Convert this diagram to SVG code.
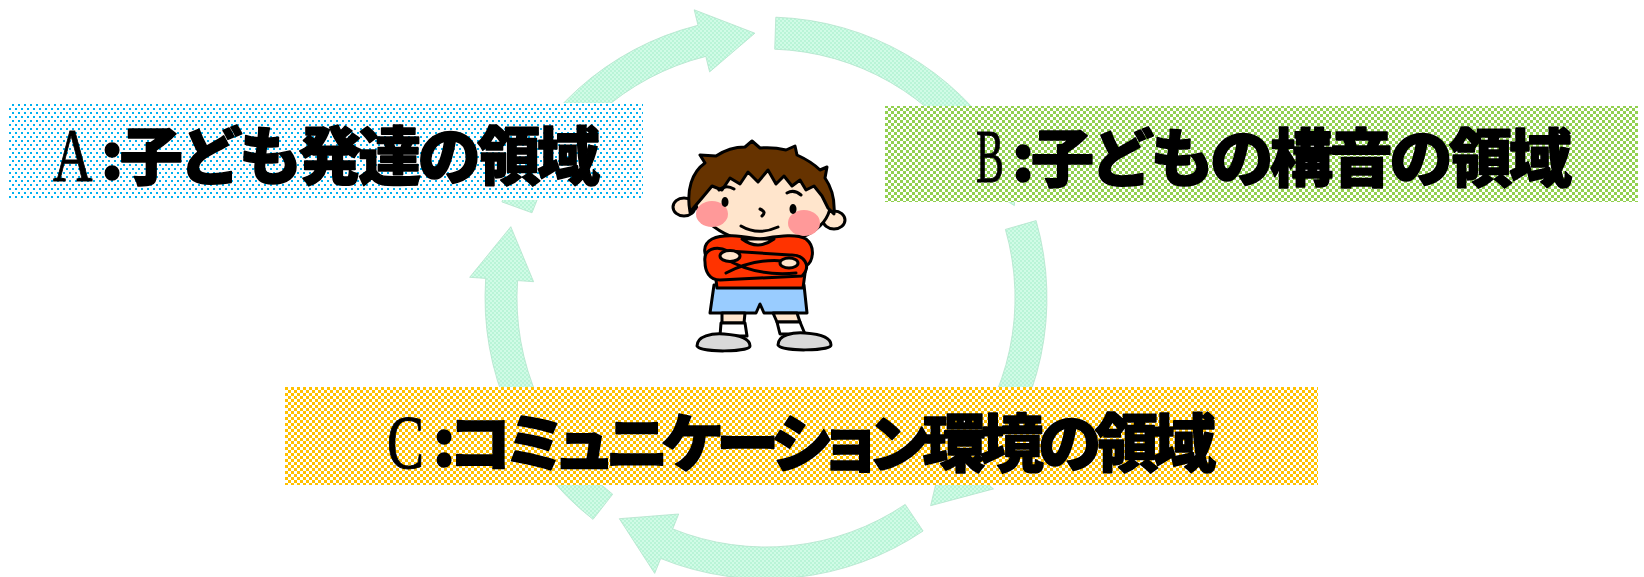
<svg xmlns="http://www.w3.org/2000/svg" width="1644" height="577" viewBox="0 0 1644 577">
  <defs>
    <!-- fill textures -->
    <pattern id="patDots" width="6" height="8" patternUnits="userSpaceOnUse">
      <rect width="6" height="8" fill="#fff"/>
      <rect x="0" y="0" width="2" height="2" fill="#00B0F0"/>
      <rect x="3" y="4" width="2" height="2" fill="#00B0F0"/>
    </pattern>
    <pattern id="patGreen" width="6" height="6" patternUnits="userSpaceOnUse">
      <rect width="6" height="6" fill="#fff"/>
      <rect x="0" y="0" width="3" height="3" fill="#92D050"/>
      <rect x="3" y="3" width="3" height="3" fill="#92D050"/>
    </pattern>
    <pattern id="patOrange" width="6" height="6" patternUnits="userSpaceOnUse">
      <rect width="6" height="6" fill="#fff"/>
      <rect x="0" y="0" width="3" height="3" fill="#FFC000"/>
      <rect x="3" y="3" width="3" height="3" fill="#FFC000"/>
    </pattern>
    <pattern id="patMint" width="4" height="4" patternUnits="userSpaceOnUse">
      <rect width="4" height="4" fill="#D0FBE6"/>
      <rect x="0" y="0" width="2" height="2" fill="#B9F4D7"/>
      <rect x="2" y="2" width="2" height="2" fill="#B9F4D7"/>
    </pattern>
  </defs>
  <style>
    .ring { fill: url(#patMint); stroke: #B3E3CB; stroke-width: 0.8; }
    .cjk { font-family: "Noto Sans CJK JP", "Noto Sans CJK SC", sans-serif; font-weight: 900; font-size: 63px; fill: #000; stroke: #000; stroke-width: 1.6; stroke-linejoin: round; }
    .kana { font-feature-settings: "palt"; }
    .lat { font-family: "Liberation Serif", serif; font-size: 76px; fill: #000; stroke: #000; stroke-width: 1; }
    .ln { stroke: #000; stroke-width: 3; stroke-linejoin: round; stroke-linecap: round; }
    .skin { fill: #FFE5CC; }
  </style>

  <rect width="1644" height="577" fill="#fff"/>

  <!-- cycle arrows: five ring segments around (766,298) -->
  <g id="connectors">
    <path class="ring" d="M501.9,201.9 A281,281 0 0 1 698.0,25.3 L694.2,9.8 L754.9,33.2 L709.6,71.9 L705.8,56.4 A249,249 0 0 0 532.0,212.8 Z"/>
    <path class="ring" d="M775.8,17.2 A281,281 0 0 1 1004.3,149.1 L1017.9,140.6 L1014.4,205.6 L963.6,174.5 L977.2,166.1 A249,249 0 0 0 774.7,49.2 Z"/>
    <path class="ring" d="M1036.1,220.6 A281,281 0 0 1 981.2,478.6 L993.5,488.9 L930.6,505.7 L944.5,447.8 L956.7,458.1 A249,249 0 0 0 1005.4,229.4 Z"/>
    <path class="ring" d="M923.1,531.0 A281,281 0 0 1 660.7,558.5 L654.7,573.4 L619.3,518.7 L678.7,514.0 L672.7,528.9 A249,249 0 0 0 905.2,504.4 Z"/>
    <path class="ring" d="M593.0,519.4 A281,281 0 0 1 485.7,278.4 L469.7,277.3 L510.8,226.7 L533.6,281.7 L517.6,280.6 A249,249 0 0 0 612.7,494.2 Z"/>
  </g>

  <!-- A -->
  <g id="nodeA">
    <rect x="8" y="103" width="635" height="97" fill="url(#patDots)"/>
    <text class="lat" x="0" y="0" transform="translate(53 181) scale(0.72 1)">A</text>
    <text class="cjk" x="101" y="179" textLength="499" lengthAdjust="spacing">:子ども発達の領域</text>
  </g>

  <!-- B -->
  <g id="nodeB">
    <rect x="885" y="106" width="753" height="96" fill="url(#patGreen)"/>
    <text class="lat" x="0" y="0" transform="translate(976 182) scale(0.55 1)">B</text>
    <text class="cjk" x="1012" y="181" textLength="560" lengthAdjust="spacing">:子どもの構音の領域</text>
  </g>

  <!-- C -->
  <g id="nodeC">
    <rect x="285" y="387" width="1033" height="98" fill="url(#patOrange)"/>
    <text class="lat" x="0" y="0" transform="translate(387 468) scale(0.73 1)">C</text>
    <text class="cjk kana" x="433" y="466" textLength="783" lengthAdjust="spacing">:コミュニケーション環境の領域</text>
  </g>

  <!-- child figure -->
  <g id="child">
    <!-- ears -->
    <ellipse class="skin ln" cx="684" cy="207" rx="11" ry="9"/>
    <ellipse class="skin ln" cx="834" cy="220" rx="11" ry="9"/>
    <!-- face -->
    <ellipse class="skin ln" cx="762" cy="197" rx="69" ry="46" transform="rotate(7 762 197)"/>
    <ellipse cx="712" cy="214" rx="16" ry="13" fill="#FF9999"/>
    <ellipse cx="804" cy="223" rx="16" ry="13" fill="#FF9999"/>
    <!-- hair -->
    <path class="ln" fill="#663300" d="M690,212 C686,190 692,172 705,163 L700,155 L716,156 C725,150 735,147 745,147 L752,141 L760,148 C770,147 778,148 786,150 L795,146 L797,155 C808,160 815,165 820,170 L827,167 L825,178 C832,188 835,200 834,214 L828,208 L822,196 L814,186 L806,190 L800,180 L792,186 L784,176 L776,184 L768,170 L758,182 L748,172 L740,184 L730,178 L722,190 L712,186 L702,198 Z"/>
    <!-- features -->
    <ellipse cx="725" cy="202" rx="3.5" ry="5"/>
    <ellipse cx="793" cy="209" rx="3.5" ry="5"/>
    <path class="ln" fill="none" stroke-width="2.5" d="M719,190 Q726,184 734,189 M787,193 Q794,189 801,195"/>
    <path class="ln" fill="none" stroke-width="2" d="M760,209 Q767,212 762,216"/>
    <path class="ln" fill="none" d="M741,226 Q758,236 778,227"/>
    <!-- shorts -->
    <path class="ln" fill="#99CCFF" d="M714,285 L804,285 L807,313 L764,313 L760,304 L756,313 L710,313 Z"/>
    <!-- shirt -->
    <path class="ln" fill="#FF3300" d="M717,288 L714,264 C703,258 701,245 712,239 C725,233 745,237 760,239 C775,237 795,233 806,239 C816,247 813,262 806,266 L803,288 Z"/>
    <path class="ln skin" stroke-width="2.5" d="M742,239 Q758,251 774,239 Z"/>
    <!-- crossed arms -->
    <path class="ln" fill="#FF3300" d="M705,262 C703,249 716,245 728,251 L790,255 C804,254 812,266 802,276 L720,280 C709,280 705,271 705,262 Z"/>
    <path class="ln" fill="none" stroke-width="2.5" d="M726,273 Q758,256 792,262 M724,258 Q756,277 796,273"/>
    <ellipse class="ln skin" stroke-width="2.5" cx="730" cy="256" rx="10" ry="5.5"/>
    <ellipse class="ln skin" stroke-width="2.5" cx="789" cy="263" rx="9" ry="5"/>
    <!-- legs and socks -->
    <path class="ln skin" stroke-width="2.5" d="M722,313 L745,313 L744,323 L722,323 Z M773,313 L797,313 L800,322 L777,322 Z"/>
    <path class="ln" fill="#fff" stroke-width="2.5" d="M721,323 L745,323 L747,336 L720,336 Z M777,322 L800,322 L805,334 L780,334 Z"/>
    <!-- shoes -->
    <path class="ln" fill="#D9D9D9" d="M697,346 C697,336 712,333 724,334 C738,335 750,338 750,346 C750,352 700,353 697,346 Z"/>
    <path class="ln" fill="#D9D9D9" d="M778,345 C778,335 793,332 805,333 C819,334 831,337 831,345 C831,351 781,352 778,345 Z"/>
  </g>
</svg>
